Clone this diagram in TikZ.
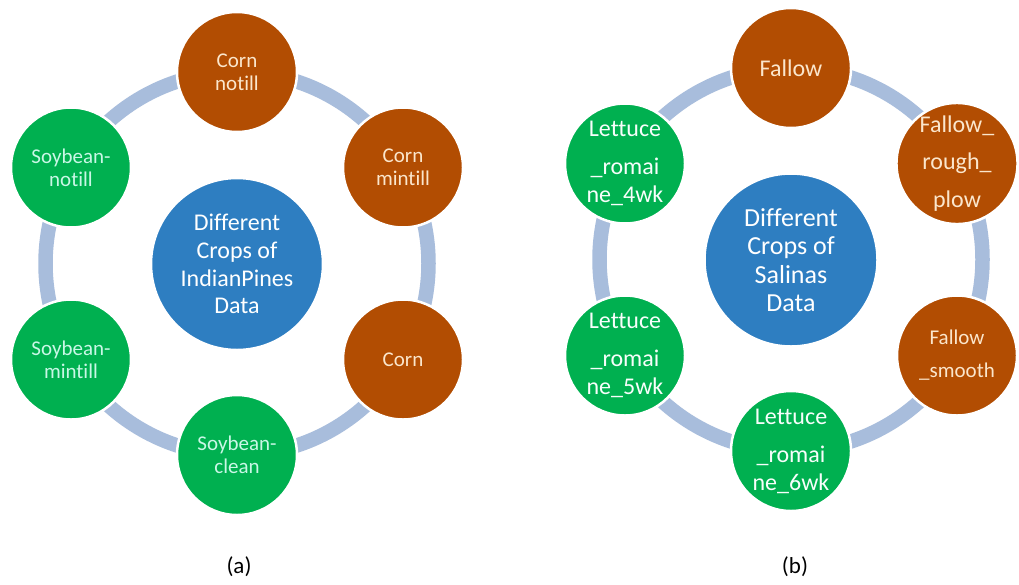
\documentclass[tikz,border=0pt]{standalone}
\usepackage{fontspec}
\setmainfont{Carlito}[Ligatures={NoCommon}]
\definecolor{brownc}{HTML}{B24D02}
\definecolor{greenc}{HTML}{00B050}
\definecolor{bluec}{HTML}{2E7EC1}
\definecolor{ringc}{HTML}{A8BDDC}
\definecolor{gtext}{HTML}{C9F7E6}
\definecolor{btext}{HTML}{FBE6CC}
\begin{document}
\begin{tikzpicture}[x=1pt,y=-1pt,
  outer/.style={circle,draw=white,line width=2.5pt,minimum size=120pt,inner sep=0pt,align=center},
  brn/.style={outer,fill=brownc,text=btext},
  grn/.style={outer,fill=greenc,text=gtext},
  hub/.style={circle,draw=white,line width=2.5pt,fill=bluec,text=white,inner sep=0pt,align=center},
  ringline/.style={draw=ringc,line width=14.5pt},
  txtA/.style={font=\fontsize{21}{23}\selectfont},
  txtB/.style={font=\fontsize{24}{28}\selectfont},
  txtC/.style={font=\fontsize{24}{37.5}\selectfont},
  txtD/.style={font=\fontsize{21}{33}\selectfont},
  capt/.style={font=\fontsize{23}{26}\selectfont,text=black}
]
\fill[white] (0,0) rectangle (1019,584);
\useasboundingbox (0,0) rectangle (1019,584);

% ---------- (a) Indian Pines ----------
\coordinate (ringA) at (237,263.5);
\draw[ringline] (ringA) circle[radius=191.5pt];
\node[hub,minimum size=172pt,font=\fontsize{24}{27.7}\selectfont] (hubA) at (237,264) {Different\\Crops of\\IndianPines\\Data};
\node[brn,txtA] (cn) at (237,72) {Corn\\notill};
\node[brn,txtA] (cm) at (403,167.5) {Corn\\mintill};
\node[brn,txtA] (co) at (403,359.5) {Corn};
\node[grn,txtA] (sc) at (237,455) {Soybean-\\clean};
\node[grn,txtA] (sm) at (71,359.5) {Soybean-\\mintill};
\node[grn,txtA] (sn) at (71,167.5) {Soybean-\\notill};
\node[capt] (capA) at (239,567) {(a)};

% ---------- (b) Salinas ----------
\coordinate (ringB) at (791,259.5);
\draw[ringline] (ringB) circle[radius=191.5pt];
\node[hub,minimum size=173pt,font=\fontsize{26}{28.5}\selectfont] (hubB) at (791,260) {Different\\Crops of\\Salinas\\Data};
\node[brn,txtB] (fa) at (791,68) {Fallow};
\node[brn,txtC] (fr) at (957,163.5) {Fallow\_\\rough\_\\plow};
\node[brn,txtD] (fs) at (957,355.5) {Fallow\\\_smooth};
\node[grn,txtB,text=white!85!gtext] (l6) at (791,451) {Lettuce\\[10pt]\_romai\\ne\_6wk};
\node[grn,txtB,text=white!85!gtext] (l5) at (625,355.5) {Lettuce\\[10pt]\_romai\\ne\_5wk};
\node[grn,txtB,text=white!85!gtext] (l4) at (625,163.5) {Lettuce\\[10pt]\_romai\\ne\_4wk};
\node[capt] (capB) at (795,567) {(b)};
\end{tikzpicture}
\end{document}
